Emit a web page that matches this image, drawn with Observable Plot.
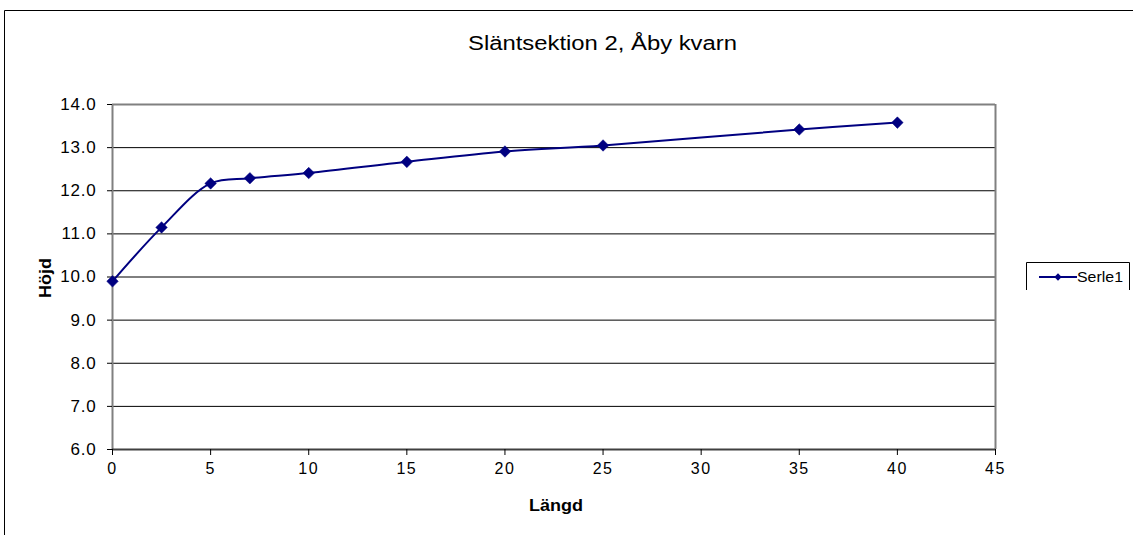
<!DOCTYPE html>
<html>
<head>
<meta charset="utf-8">
<script src="https://cdn.jsdelivr.net/npm/d3@7"></script>
<script src="https://cdn.jsdelivr.net/npm/@observablehq/plot@0.6"></script>
<style>
  html, body { margin: 0; padding: 0; background: #fff; }
  #chart { position: relative; width: 1133px; height: 535px; overflow: hidden; }
  svg { font-family: "Liberation Sans", Arial, sans-serif; }
  g[aria-label="y-axis tick label"] text { font-size: 17px; letter-spacing: 0.8px; }
  g[aria-label="x-axis tick label"] text { font-size: 16px; letter-spacing: 1.5px; }
</style>
</head>
<body>
<div id="chart"></div>
<script>
// Slope section profile: length (m) vs. height
const langd = [0, 2.5, 5, 7, 10, 15, 20, 25, 35, 40];
const hojd = [9.9, 11.15, 12.17, 12.29, 12.41, 12.67, 12.91, 13.05, 13.42, 13.58];
const xTicks = [0, 5, 10, 15, 20, 25, 30, 35, 40, 45];
const yTicks = [6, 7, 8, 9, 10, 11, 12, 13, 14];
const title = "Släntsektion 2, Åby kvarn";
const xLabel = "Längd";
const yLabel = "Höjd";
const seriesName = "Serle1";

const data = langd.map((x, i) => ({x, y: hojd[i]}));
const navy = "#000080";

const W = 1133, H = 535;
const mL = 112, mR = 138, mT = 104, mB = 86;

const plot = Plot.plot({
  width: W,
  height: H,
  marginLeft: mL,
  marginRight: mR,
  marginTop: mT,
  marginBottom: mB,
  style: {fontFamily: "Liberation Sans, Arial, sans-serif", color: "#000", background: "#fff", overflow: "visible"},
  x: {domain: [0, 45], ticks: xTicks, label: null},
  y: {domain: [6, 14], ticks: yTicks, label: null},
  marks: [
    // horizontal gridlines
    Plot.ruleY(yTicks.slice(1, -1), {stroke: "#000", strokeWidth: 1}),
    // plot area border
    Plot.ruleY([14], {stroke: "#808080", strokeWidth: 2}),
    Plot.ruleX([45], {stroke: "#808080", strokeWidth: 2}),
    Plot.ruleX([0], {stroke: "#808080", strokeWidth: 2}),
    Plot.ruleY([6], {stroke: "#404040", strokeWidth: 2}),
    Plot.axisX({ticks: xTicks, tickSize: 6, tickPadding: 7, tickFormat: d => d, stroke: "#000"}),
    Plot.axisY({ticks: yTicks, tickSize: 5, tickPadding: 11, tickFormat: d => d.toFixed(1), stroke: "#000"}),
    Plot.line(data, {x: "x", y: "y", stroke: navy, strokeWidth: 2, curve: "catmull-rom"}),
    Plot.dot(data, {x: "x", y: "y", symbol: "diamond2", r: 5.2, fill: navy, stroke: navy, strokeWidth: 0.5})
  ]
});

document.getElementById("chart").appendChild(plot);

const svg = d3.select(plot);

// outer chart frame
svg.append("path")
  .attr("d", `M${W + 5},10.5 H4.5 V${H + 5}`)
  .attr("fill", "none").attr("stroke", "#000").attr("stroke-width", 1);

// title
svg.append("text")
  .attr("x", 602.5).attr("y", 50)
  .attr("text-anchor", "middle")
  .attr("font-size", 20)
  .attr("textLength", 269).attr("lengthAdjust", "spacingAndGlyphs")
  .attr("fill", "#000")
  .text(title);

// axis titles
svg.append("text")
  .attr("x", 556).attr("y", 511)
  .attr("text-anchor", "middle")
  .attr("font-size", 16).attr("font-weight", "bold")
  .attr("textLength", 54).attr("lengthAdjust", "spacingAndGlyphs")
  .attr("fill", "#000")
  .text(xLabel);

svg.append("text")
  .attr("transform", "translate(51,278) rotate(-90)")
  .attr("text-anchor", "middle")
  .attr("font-size", 17).attr("font-weight", "bold")
  .attr("textLength", 40).attr("lengthAdjust", "spacingAndGlyphs")
  .attr("fill", "#000")
  .text(yLabel);

// legend
const lg = svg.append("g").attr("transform", "translate(1026,262)");
lg.append("path")
  .attr("d", "M0.5,28 V0.5 H103.5 V28")
  .attr("fill", "none").attr("stroke", "#000").attr("stroke-width", 1);
lg.append("line")
  .attr("x1", 13).attr("x2", 51).attr("y1", 15).attr("y2", 15)
  .attr("stroke", navy).attr("stroke-width", 1.8);
lg.append("path")
  .attr("transform", "translate(32,15)")
  .attr("d", d3.symbol(d3.symbolDiamond2, 34)())
  .attr("fill", navy);
lg.append("text")
  .attr("x", 51).attr("y", 20)
  .attr("text-anchor", "start")
  .attr("font-size", 15)
  .attr("textLength", 46).attr("lengthAdjust", "spacingAndGlyphs")
  .attr("fill", "#000")
  .text(seriesName);
</script>
</body>
</html>
